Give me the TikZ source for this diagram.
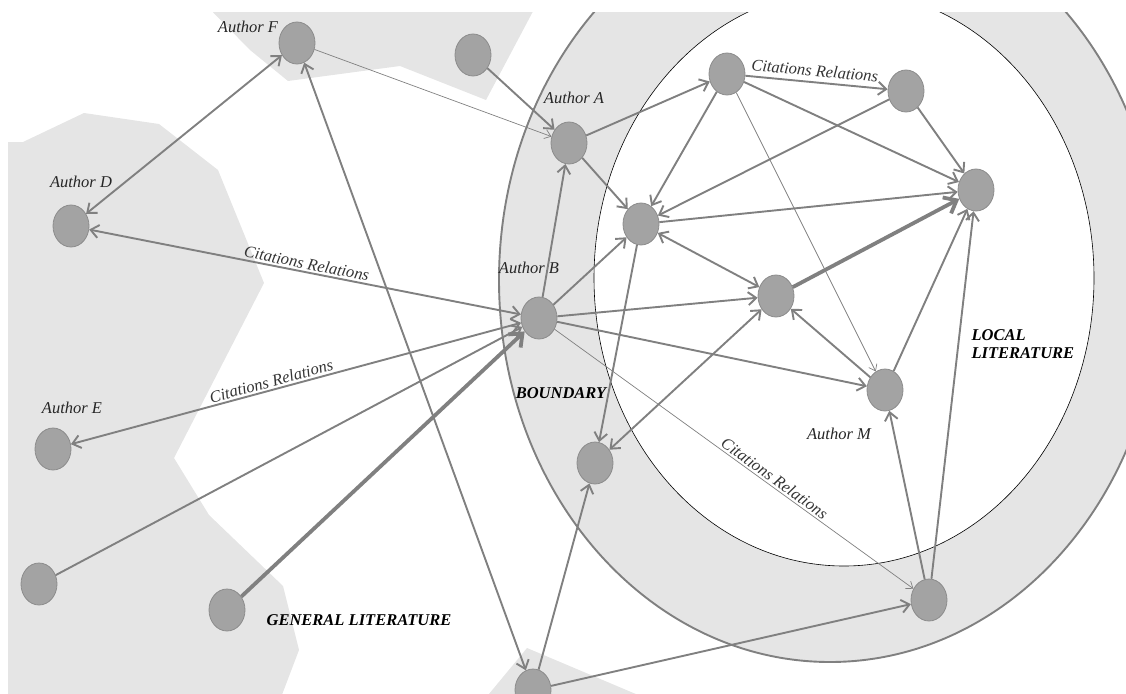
\documentclass[tikz,border=0pt]{standalone}
\usepackage{fontspec}
\setmainfont{Liberation Serif}
\usepackage{tikz}
\usetikzlibrary{shapes.geometric, arrows.meta}
\definecolor{bggray}{RGB}{229,229,229}
\definecolor{nodegray}{RGB}{163,163,163}
\definecolor{nodeline}{RGB}{140,140,140}
\definecolor{linkgray}{RGB}{128,128,128}

\begin{document}
\begin{tikzpicture}[
    x=1pt, y=-1pt,
    author/.style={ellipse, draw=nodeline, fill=nodegray, line width=0.8pt, minimum width=36pt, minimum height=42pt, inner sep=0pt},
    link/.style={->, >={Straight Barb[length=8pt, width=13pt]}, draw=linkgray, line width=1.9pt},
    thinlink/.style={link, line width=0.7pt, >={Straight Barb[length=6pt, width=9pt]}},
    thicklink/.style={link, line width=3.8pt, >={Straight Barb[length=11pt, width=18pt]}},
    authorname/.style={font=\fontsize{16.5}{18}\selectfont\itshape, text=black!85},
    zone/.style={font=\fontsize{16.5}{18}\selectfont\bfseries\itshape, align=left},
    citelabel/.style={font=\fontsize{16.5}{18}\selectfont\itshape, text=black!80, sloped, above, inner sep=2pt}
]
    \useasboundingbox (0,0) rectangle (1126,693);

    \begin{scope}
        \clip (0,13) rectangle (1126,693);
        \fill [bggray] (201,0) -- (539,0) -- (486,100) -- (400,66) -- (288,81) -- (250,50) -- cycle;
        \fill [bggray] (8,142) -- (23,142) -- (84,113) -- (159,124) -- (218,170) -- (264,283) -- (174,458)
            -- (209,515) -- (283,586) -- (299,650) -- (280,700) -- (8,700) -- cycle;
        \fill [bggray] (484,700) -- (527,648) -- (650,700) -- cycle;
        \draw [draw=linkgray, line width=1.9pt, fill=bggray] (830,280) ellipse [x radius=331pt, y radius=382pt];
        \draw [draw=black, line width=0.6pt, fill=white] (844,278) ellipse [x radius=250pt, y radius=288pt];
    \end{scope}

    \node [author] (F) at (297,43) {};
    \node [author] (src) at (473,55) {};
    \node [author] (A) at (569,143) {};
    \node [author] (D) at (71,226) {};
    \node [author] (B) at (539,318) {};
    \node [author] (E) at (53,449) {};
    \node [author] (lb) at (39,584) {};
    \node [author] (gl) at (227,610) {};
    \node [author] (bot) at (533,690) {};
    \node [author] (T1) at (727,74) {};
    \node [author] (T2) at (906,91) {};
    \node [author] (R) at (976,190) {};
    \node [author] (C1) at (641,224) {};
    \node [author] (C2) at (776,296) {};
    \node [author] (M) at (885,390) {};
    \node [author] (low) at (595,463) {};
    \node [author] (br) at (929,600) {};

    \node [authorname] (lblF) at (248,27) {Author F};
    \node [authorname] (lblA) at (574,98) {Author A};
    \node [authorname] (lblD) at (81,182) {Author D};
    \node [authorname] (lblB) at (529,268) {Author B};
    \node [authorname] (lblE) at (72,408) {Author E};
    \node [authorname] (lblM) at (839,434) {Author M};
    \node [zone] (boundary) at (561,393) {BOUNDARY};
    \node [zone] (general) at (359,620) {GENERAL LITERATURE};
    \node [zone, anchor=west] (local) at (968,344) {LOCAL\\LITERATURE};

    \draw [link, <->] (F) -- (D);
    \draw [link, <->] (bot) -- (F);
    \draw [thinlink] (F) -- (A);
    \draw [link] (src) -- (A);
    \draw [link, <->] (D) -- node [citelabel] {Citations Relations} (B);
    \draw [link, <->] (E) -- node [citelabel, pos=0.45] {Citations Relations} (B);
    \draw [link] (lb) -- (B);
    \draw [thicklink] (gl) -- (B);
    \draw [link] (B) -- (A);
    \draw [link] (A) -- (T1);
    \draw [link] (A) -- (C1);
    \draw [link] (B) -- (C1);
    \draw [link] (B) -- (C2);
    \draw [link] (B) -- (M);
    \draw [thinlink] (B) -- node [citelabel, pos=0.6] {Citations Relations} (br);
    \draw [link] (T1) -- node [citelabel, pos=0.48, inner sep=5pt] {Citations Relations} (T2);
    \draw [link] (T1) -- (R);
    \draw [link] (T1) -- (C1);
    \draw [thinlink] (T1) -- (M);
    \draw [link] (T2) -- (C1);
    \draw [link] (T2) -- (R);
    \draw [link] (C1) -- (R);
    \draw [thicklink] (C2) -- (R);
    \draw [link, <->] (C1) -- (C2);
    \draw [link] (C1) -- (low);
    \draw [link, <->] (low) -- (C2);
    \draw [link] (M) -- (C2);
    \draw [link] (M) -- (R);
    \draw [link] (br) -- (M);
    \draw [link] (br) -- (R);
    \draw [link] (bot) -- (low);
    \draw [link] (bot) -- (br);
\end{tikzpicture}
\end{document}
